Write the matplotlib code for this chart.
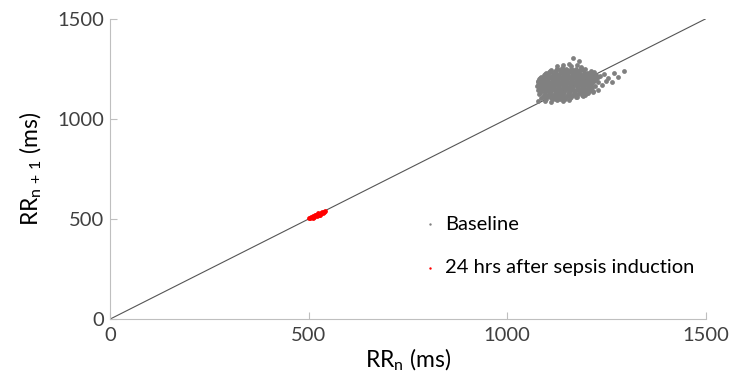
import matplotlib
matplotlib.use('agg')
import matplotlib.pyplot as plt

# Poincare plot values (ms)
# outer / scattered baseline beats
base_x = [1165, 1180,
          1125, 1140, 1155, 1160, 1175, 1185,
          1110, 1125, 1140, 1150, 1165, 1180, 1195, 1210,
          1095, 1105, 1120, 1135, 1150, 1165, 1180, 1200, 1220, 1245, 1270, 1295,
          1082, 1095, 1110, 1125, 1140, 1155, 1170, 1185, 1200, 1215, 1235, 1255, 1280,
          1078, 1090, 1105, 1120, 1135, 1150, 1165, 1180, 1195, 1210, 1228, 1250, 1265,
          1075, 1088, 1100, 1115, 1130, 1145, 1160, 1175, 1190, 1205, 1222, 1240,
          1078, 1090, 1105, 1120, 1135, 1150, 1165, 1180, 1195, 1210, 1228,
          1080, 1095, 1110, 1125, 1140, 1155, 1170, 1185, 1200, 1215,
          1085, 1100, 1115, 1130, 1145, 1160, 1175, 1190,
          1078, 1095, 1110, 1125, 1140, 1155]
base_y = [1305, 1290,
          1262, 1270, 1275, 1262, 1268, 1258,
          1245, 1250, 1248, 1242, 1245, 1240, 1248, 1238,
          1225, 1232, 1228, 1235, 1222, 1230, 1225, 1228, 1232, 1225, 1230, 1238,
          1205, 1212, 1208, 1215, 1202, 1210, 1205, 1212, 1200, 1208, 1212, 1205, 1210,
          1185, 1192, 1182, 1190, 1185, 1195, 1182, 1190, 1185, 1192, 1185, 1190, 1182,
          1165, 1172, 1160, 1170, 1162, 1175, 1165, 1172, 1160, 1170, 1165, 1168,
          1145, 1152, 1140, 1150, 1142, 1155, 1145, 1150, 1142, 1152, 1145,
          1125, 1132, 1120, 1130, 1122, 1135, 1125, 1132, 1128, 1135,
          1105, 1112, 1100, 1110, 1105, 1115, 1108, 1112,
          1088, 1090, 1085, 1092, 1088, 1095]

# dense core of the baseline cloud
core_x = [1125, 1137, 1149, 1161, 1173, 1185,
          1108, 1120, 1132, 1144, 1156, 1168, 1180, 1192,
          1098, 1110, 1122, 1134, 1146, 1158, 1170, 1182, 1194, 1206, 1214,
          1092, 1104, 1116, 1128, 1140, 1152, 1164, 1176, 1188, 1200, 1212, 1225,
          1085, 1097, 1109, 1121, 1133, 1145, 1157, 1169, 1181, 1193, 1205, 1217, 1228,
          1080, 1092, 1104, 1116, 1128, 1140, 1152, 1164, 1176, 1188, 1200, 1212, 1223,
          1077, 1089, 1101, 1113, 1125, 1137, 1149, 1161, 1173, 1185, 1197, 1209, 1219,
          1083, 1095, 1107, 1119, 1131, 1143, 1155, 1167, 1179, 1191, 1203, 1213,
          1077, 1089, 1101, 1113, 1125, 1137, 1149, 1161, 1173, 1185, 1197, 1208,
          1083, 1095, 1107, 1119, 1131, 1143, 1155, 1167, 1179, 1191, 1203, 1213,
          1080, 1092, 1104, 1116, 1128, 1140, 1152, 1164, 1176, 1188, 1200, 1212,
          1086, 1098, 1110, 1122, 1134, 1146, 1158, 1170, 1182, 1194, 1206, 1216,
          1084, 1096, 1108, 1120, 1132, 1144, 1156, 1168, 1180, 1192, 1204,
          1093, 1105, 1117, 1129, 1141, 1153, 1165, 1177, 1189, 1197,
          1090, 1102, 1114, 1126, 1138, 1150, 1162, 1174,
          1098, 1110, 1122, 1134, 1146, 1158]
core_y = [1250, 1253, 1248, 1251, 1249, 1252,
          1240, 1238, 1242, 1239, 1241, 1238, 1240, 1242,
          1230, 1232, 1229, 1231, 1228, 1232, 1230, 1229, 1231, 1230, 1228,
          1220, 1222, 1219, 1221, 1218, 1222, 1220, 1219, 1221, 1220, 1218, 1221,
          1210, 1212, 1209, 1211, 1208, 1212, 1210, 1209, 1211, 1210, 1208, 1211, 1209,
          1200, 1202, 1199, 1201, 1198, 1202, 1200, 1199, 1201, 1200, 1198, 1201, 1199,
          1190, 1192, 1189, 1191, 1188, 1192, 1190, 1189, 1191, 1190, 1188, 1191, 1189,
          1180, 1182, 1179, 1181, 1178, 1182, 1180, 1179, 1181, 1180, 1178, 1181,
          1170, 1172, 1169, 1171, 1168, 1172, 1170, 1169, 1171, 1170, 1168, 1171,
          1160, 1162, 1159, 1161, 1158, 1162, 1160, 1159, 1161, 1160, 1158, 1161,
          1150, 1152, 1149, 1151, 1148, 1152, 1150, 1149, 1151, 1150, 1148, 1151,
          1140, 1142, 1139, 1141, 1138, 1142, 1140, 1139, 1141, 1140, 1138, 1141,
          1130, 1132, 1129, 1131, 1128, 1132, 1130, 1129, 1131, 1130, 1128,
          1120, 1122, 1119, 1121, 1118, 1122, 1120, 1119, 1121, 1120,
          1110, 1112, 1109, 1111, 1108, 1112, 1110, 1109,
          1100, 1102, 1099, 1101, 1098, 1102]

sepsis_x = [500, 504, 507, 510, 514, 518, 521, 525, 528, 532, 536, 540, 542,
            512, 520, 529, 516, 524, 533]
sepsis_y = [503, 507, 510, 514, 512, 518, 522, 520, 526, 528, 532, 534, 538,
            506, 514, 522, 521, 529, 536]

plt.rcParams['font.family'] = ['Lato', 'DejaVu Sans']
plt.rcParams['mathtext.fontset'] = 'custom'
plt.rcParams['mathtext.rm'] = 'Lato'
plt.rcParams['mathtext.it'] = 'Lato'

fig = plt.figure(figsize=(7.29, 3.84), dpi=100)
ax = fig.add_axes([0.151, 0.169, 0.817, 0.782])

ax.plot([0, 1500], [0, 1500], '-', color='#555555', lw=0.8, zorder=1)
ax.scatter(core_x, core_y, s=12, color='#808080', lw=0, zorder=2)
ax.scatter(base_x, base_y, s=12, color='#808080', lw=0, label='Baseline', zorder=2)
ax.scatter(sepsis_x, sepsis_y, s=12, color='#ff0000', lw=0,
           label='24 hrs after sepsis induction', zorder=3)

ax.set_xlim(0, 1500)
ax.set_ylim(0, 1500)
ax.set_xticks([0, 500, 1000, 1500])
ax.set_yticks([0, 500, 1000, 1500])
for side in ['top', 'right']:
    ax.spines[side].set_visible(False)
for side in ['left', 'bottom']:
    ax.spines[side].set_color('#bfbfbf')
ax.tick_params(direction='in', length=5, color='#bfbfbf', labelsize=14.5,
               labelcolor='#404040')
ax.tick_params(axis='x', pad=6)
ax.tick_params(axis='y', pad=4)

ax.set_xlabel(r'RR$_{\rm n}$ (ms)', fontsize=16.5, labelpad=2)
ax.set_ylabel(r'RR$_{\rm n\,+\,1}$ (ms)', fontsize=16.5, labelpad=10)

ax.legend(loc='upper left', bbox_to_anchor=(0.492, 0.405), frameon=False,
          fontsize=14.5, markerscale=0.5, labelspacing=1.3, handletextpad=0.3,
          handlelength=0.9)

fig.savefig('out.png', dpi=100)
plt.close()
